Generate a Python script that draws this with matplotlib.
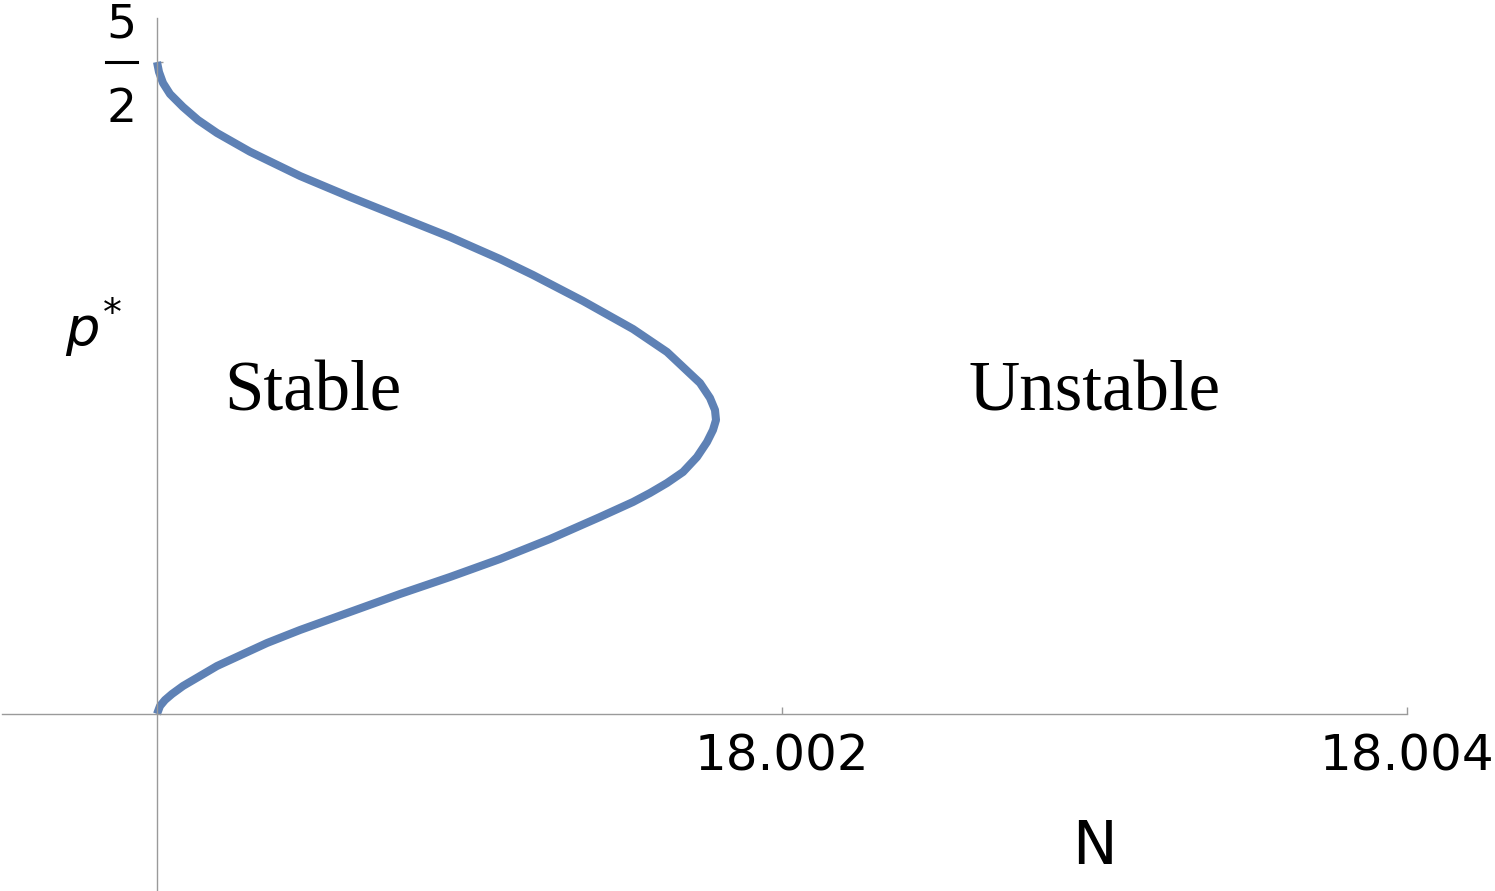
import matplotlib
matplotlib.use("Agg")
import matplotlib.pyplot as plt
import matplotlib.transforms as mtransforms

# curve, from the top end (p* = 5/2) down to p* = 0
N_values = [
    18.0000000, 18.0000064, 18.0000192, 18.0000416, 18.0000832, 18.0001312,
    18.0001920, 18.0002976, 18.0004576, 18.0006176, 18.0007776, 18.0009376,
    18.0010976, 18.0012032, 18.0013632, 18.0015232, 18.0016320, 18.0017376,
    18.0017696, 18.0017856, 18.0017888, 18.0017792, 18.0017600, 18.0017280,
    18.0016832, 18.0016320, 18.0015776, 18.0015232, 18.0014176, 18.0012576,
    18.0010976, 18.0009376, 18.0007776, 18.0006176, 18.0004576, 18.0003520,
    18.0001920, 18.0000832, 18.0000480, 18.0000256, 18.0000096, 18.0000000,
]
p_values = [
    2.5000, 2.4617, 2.4195, 2.3773, 2.3275, 2.2776,
    2.2278, 2.1560, 2.0629, 1.9824, 1.9057, 1.8290,
    1.7446, 1.6833, 1.5836, 1.4762, 1.3881, 1.2692,
    1.2117, 1.1656, 1.1273, 1.0890, 1.0429, 0.9854,
    0.9279, 0.8857, 0.8474, 0.8129, 0.7554, 0.6710,
    0.5943, 0.5253, 0.4601, 0.3911, 0.3221, 0.2722,
    0.1840, 0.1074, 0.0767, 0.0537, 0.0307, 0.0000,
]
x_ticks = [18.002, 18.004]
x_tick_labels = ["18.002", "18.004"]
region_labels = ["Stable", "Unstable"]
region_x = [18.0005, 18.0030]
region_y = 1.162

curve_color = "#5E81B5"
axis_color = "#9a9a9a"

fig = plt.figure(figsize=(14.95, 8.91), dpi=100)
ax = fig.add_axes([0, 0, 1, 1])

# scale: 0.002 in N per 625 px, 2.5 in p* per 652 px, origin at pixel (157, 714)
nx = 0.002 / 625
py = 2.5 / 652
ax.set_xlim(18.0 - 157 * nx, 18.0 + (1495 - 157) * nx)
ax.set_ylim(-(891 - 714) * py, 714 * py)

ax.plot(N_values, p_values, color=curve_color, lw=5.8,
        solid_joinstyle="round", solid_capstyle="butt")

for s in ["top", "right"]:
    ax.spines[s].set_visible(False)
ax.spines["left"].set_position(("data", 18.0))
ax.spines["bottom"].set_position(("data", 0.0))
ax.spines["left"].set_bounds(ax.get_ylim()[0], (714 - 18) * py)
ax.spines["bottom"].set_bounds(18.0 - 155 * nx, 18.004)
for s in ["left", "bottom"]:
    ax.spines[s].set_color(axis_color)
    ax.spines[s].set_linewidth(1.0)

ax.set_xticks(x_ticks)
ax.set_xticklabels(x_tick_labels)
ax.tick_params(axis="x", direction="in", length=5, width=1, color=axis_color,
               labelsize=36, pad=13)
ax.set_yticks([2.5])
ax.set_yticklabels([""])
ax.tick_params(axis="y", direction="in", length=4, width=1, color=axis_color)

# 5/2 tick label as a stacked fraction
ax.annotate("5", xy=(18.0, 2.5), xytext=(-25.6, 17.3), textcoords="offset points",
            ha="center", va="baseline", fontsize=34)
ax.annotate("2", xy=(18.0, 2.5), xytext=(-25.6, -43.2), textcoords="offset points",
            ha="center", va="baseline", fontsize=34)
bar_tr = mtransforms.blended_transform_factory(fig.dpi_scale_trans, ax.transData)
ax.plot([1.06, 1.37], [2.5, 2.5], color="black", lw=2.2, transform=bar_tr,
        clip_on=False)

ax.text(18.0 - 92 * nx, 1.415, r"$p^{*}$", fontsize=39, ha="left", va="baseline")
ax.text(18.003, -0.51, "N", fontsize=43, ha="center", va="center")

for lab, x in zip(region_labels, region_x):
    ax.text(x, region_y, lab, fontsize=51, family="Liberation Serif",
            ha="center", va="baseline")

fig.savefig("out.png", dpi=100)
